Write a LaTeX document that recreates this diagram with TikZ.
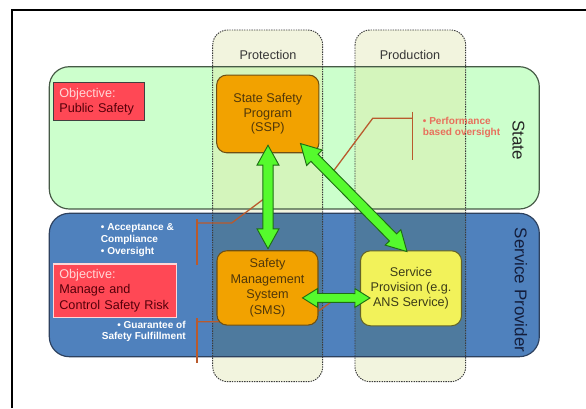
\documentclass[tikz,border=0pt]{standalone}
\usepackage{fontspec}
\setmainfont{Liberation Sans}
\usetikzlibrary{calc}

\definecolor{stategreen}{RGB}{204,255,204}
\definecolor{stateborder}{RGB}{70,90,70}
\definecolor{spblue}{RGB}{79,129,189}
\definecolor{spborder}{RGB}{45,65,95}
\definecolor{colfill}{RGB}{242,244,222}
\definecolor{colgreen}{RGB}{212,245,188}
\definecolor{colblue}{RGB}{78,122,158}
\definecolor{colborder}{RGB}{60,60,60}
\definecolor{orangebox}{RGB}{242,162,0}
\definecolor{orangeborder}{RGB}{110,80,20}
\definecolor{yellowbox}{RGB}{242,242,90}
\definecolor{yellowborder}{RGB}{100,100,40}
\definecolor{boxtext}{RGB}{80,55,10}
\definecolor{objred}{RGB}{255,72,85}
\definecolor{objlight}{RGB}{255,215,215}
\definecolor{objdark}{RGB}{85,0,10}
\definecolor{bracketcol}{RGB}{185,90,45}
\definecolor{perftext}{RGB}{232,112,92}
\definecolor{arrowfill}{RGB}{85,250,45}
\definecolor{arrowline}{RGB}{30,110,20}
\definecolor{titletext}{RGB}{55,55,55}
\definecolor{sptext}{RGB}{20,30,60}

\newcommand{\fatarrow}[5]{% #1 start, #2 end, #3 head length, #4 head half width, #5 shaft half width
  \coordinate (faA) at (#1);
  \coordinate (faB) at (#2);
  \coordinate (faHa) at ($(faA)!#3!(faB)$);
  \coordinate (faHb) at ($(faB)!#3!(faA)$);
  \filldraw[fatarrowstyle] (faA) -- ($(faHa)!#4!90:(faB)$) -- ($(faHa)!#5!90:(faB)$)
    -- ($(faHb)!#5!-90:(faA)$) -- ($(faHb)!#4!-90:(faA)$) -- (faB)
    -- ($(faHb)!#4!90:(faA)$) -- ($(faHb)!#5!90:(faA)$)
    -- ($(faHa)!#5!-90:(faB)$) -- ($(faHa)!#4!-90:(faB)$) -- cycle;
}

\tikzset{
  fatarrowstyle/.style={fill=arrowfill, draw=arrowline, line width=0.8pt, line join=miter},
  statebx/.style={rounded corners=0.6cm},
  colbx/.style={rounded corners=0.45cm},
  colborderline/.style={draw=colborder, line width=0.8pt, dash pattern=on 1.2pt off 0.9pt},
  orangebx/.style={draw=orangeborder, fill=orangebox, line width=0.9pt, rounded corners=0.3cm,
    inner sep=0pt, align=center, text=boxtext, font=\fontsize{10.8}{13}\selectfont},
  yellowbx/.style={orangebx, draw=yellowborder, fill=yellowbox, text=yellowborder!60!black},
  objbx/.style={fill=objred, inner xsep=0.18cm, inner ysep=0pt, align=left,
    font=\fontsize{10.8}{12.8}\selectfont},
  coltitle/.style={font=\fontsize{10.8}{13}\selectfont, text=titletext, inner sep=0pt},
  sidetitle/.style={font=\fontsize{14.5}{17}\selectfont, rotate=-90, inner sep=0pt},
  bullettxt/.style={font=\bfseries\fontsize{8.6}{10.5}\selectfont, text=white, align=left, inner sep=0pt},
  bracketline/.style={draw=bracketcol, line width=1.1pt},
}

\begin{document}
\begin{tikzpicture}[x=0.03cm, y=-0.03cm]
\useasboundingbox (0,0) rectangle (586,408);
\fill[white] (0,0) rectangle (586,408);

% outer frame
\draw[line width=1.6pt] (12,408) -- (12,10) -- (586,10);

% column backgrounds
\fill[colfill, colbx] (212.7,30) rectangle (322.7,381.7);
\fill[colfill, colbx] (355,30) rectangle (465.7,381.7);

% State and Service Provider regions
\fill[stategreen, statebx] (49.3,66.7) rectangle (539.3,209);
\fill[spblue, statebx] (49.3,213.3) rectangle (539.3,356.7);

% tinted overlap of columns
\begin{scope}
  \clip[colbx] (212.7,30) rectangle (322.7,381.7) (355,30) rectangle (465.7,381.7);
  \fill[colgreen, statebx] (49.3,66.7) rectangle (539.3,209);
  \fill[colblue, statebx] (49.3,213.3) rectangle (539.3,356.7);
\end{scope}
\draw[stateborder, line width=1pt, statebx] (49.3,66.7) rectangle (539.3,209);
\draw[spborder, line width=1pt, statebx] (49.3,213.3) rectangle (539.3,356.7);

% column borders and titles
\draw[colborderline, colbx] (212.7,30) rectangle (322.7,381.7);
\draw[colborderline, colbx] (355,30) rectangle (465.7,381.7);
\node[coltitle] (protT) at (268,55) {Protection};
\node[coltitle] (prodT) at (410,55) {Production};

% side titles
\node[sidetitle, text=black!85] (stateT) at (518.5,140) {State};
\node[sidetitle, text=sptext] (spT) at (521,290) {Service Provider};

% bracket lines
\coordinate (pb1) at (412.3,111.7);
\coordinate (pb2) at (412.3,160);
\coordinate (pb3) at (412.3,118.3);
\coordinate (pb4) at (372.7,118.3);
\coordinate (pb5) at (332,173);
\draw[bracketline] (pb1) -- (pb2);
\draw[bracketline] (pb3) -- (pb4) -- (pb5);

\coordinate (ab1) at (197,219);
\coordinate (ab2) at (197,265);
\coordinate (ab3) at (197,223);
\coordinate (ab4) at (231.7,223);
\coordinate (ab5) at (265,198);
\draw[bracketline] (ab1) -- (ab2);
\draw[bracketline] (ab3) -- (ab4) -- (ab5);

\coordinate (gb1) at (197,318);
\coordinate (gb2) at (197,363);
\coordinate (gb3) at (197,321.7);
\coordinate (gb4) at (303.6,321.7);
\coordinate (gb5) at (336.3,298.3);
\draw[bracketline] (gb1) -- (gb2);
\draw[bracketline] (gb3) -- (gb4) -- (gb5);

% labels
\node[bullettxt, anchor=west] (acc) at (100.7,240) {• Acceptance \&\\Compliance\\• Oversight};
\node[bullettxt, align=right, anchor=east, font=\bfseries\fontsize{8.6}{9.7}\selectfont] (guar) at (186,331.7) {• Guarantee of\\Safety Fulfillment};
\node[bullettxt, text=perftext, anchor=west, font=\bfseries\fontsize{8.6}{9.9}\selectfont] (perf) at (422.7,127.5) {• Performance\\based oversight};

% objective boxes
\node[objbx, draw=black!75, line width=0.9pt, text width=2.36cm, minimum height=1.14cm] (obj1) at (98.7,101.7)
  {\textcolor{objlight}{Objective:}\\\textcolor{objdark}{Public Safety}};
\node[objbx, draw=objlight, line width=1.2pt, text width=3.34cm, minimum height=1.6cm, font=\fontsize{10.8}{13.3}\selectfont] (obj2) at (115,290.7)
  {\textcolor{objlight}{Objective:}\\\textcolor{objdark}{Manage and}\\\textcolor{objdark}{Control Safety Risk}};

% main boxes
\node[orangebx, minimum width=3.07cm, minimum height=2.33cm, font=\fontsize{10.8}{12.5}\selectfont] (ssp) at (267.8,113.9) {State Safety\\Program\\(SSP)};
\node[orangebx, minimum width=3.03cm, minimum height=2.23cm, font=\fontsize{10.8}{13.2}\selectfont] (sms) at (267.5,287.9) {Safety\\Management\\System\\(SMS)};
\node[yellowbx, minimum width=3.03cm, minimum height=2.25cm] (sp) at (411,288.3) {Service\\Provision (e.g.\\ANS Service)};

% arrows
\coordinate (vA) at ($(ssp.south)+(0.2,-8)$);
\coordinate (vB) at ($(sms.north)+(0.5,-1.5)$);
\coordinate (dA) at ($(ssp.south east)+(-19,-9.7)$);
\coordinate (dB) at ($(sp.north)+(-4,1.3)$);
\coordinate (hA) at ($(sms.east)+(-16,10)$);
\coordinate (hB) at ($(sp.west)+(10,9.7)$);
\fatarrow{vA}{vB}{17pt}{9.4pt}{4.3pt}
\fatarrow{dA}{dB}{17pt}{9.4pt}{4.3pt}
\fatarrow{hA}{hB}{12.8pt}{8pt}{3.8pt}
\end{tikzpicture}
\end{document}
